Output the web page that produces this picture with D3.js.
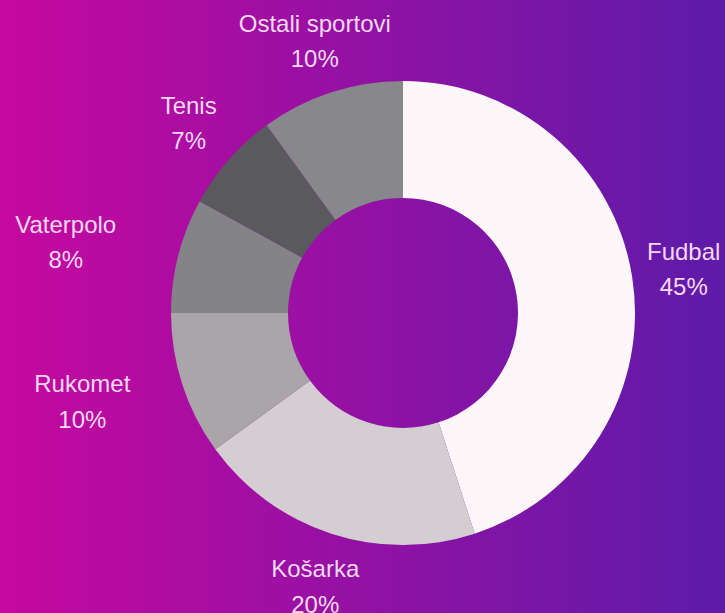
<!DOCTYPE html>
<html>
<head>
<meta charset="utf-8">
<script src="https://cdn.jsdelivr.net/npm/d3@7/dist/d3.min.js"></script>
<style>
  html, body { margin: 0; padding: 0; overflow: hidden; }
  svg { display: block; }
</style>
</head>
<body>
<svg id="chart" width="725" height="613"></svg>
<script>
// ---- data ----
const categories = ["Fudbal", "Košarka", "Rukomet", "Vaterpolo", "Tenis", "Ostali sportovi"];
const values = [45, 20, 10, 8, 7, 10];
const valueLabels = ["45%", "20%", "10%", "8%", "7%", "10%"];

// ---- styles / layout ----
const sliceColors = ["#fef7f9", "#d4cdd2", "#a9a5a9", "#848387", "#5a595e", "#88878b"];
const labelRadius = [283, 295, 335, 343, 281, 278];
const labelAngleShift = [1.7, -0.7, 1.2, -3.9, -1.1, -0.5]; // degrees

const W = 725, H = 613;
const cx = 403, cy = 313, outerR = 232, innerR = 115;

const svg = d3.select("#chart");
const defs = svg.append("defs");
const grad = defs.append("linearGradient").attr("id", "bg")
  .attr("x1", "0%").attr("y1", "0%").attr("x2", "100%").attr("y2", "0%");
grad.append("stop").attr("offset", "0%").attr("stop-color", "#c7089f");
grad.append("stop").attr("offset", "100%").attr("stop-color", "#5d1ba9");

svg.append("rect").attr("width", W).attr("height", H).attr("fill", "url(#bg)");

const data = categories.map((c, i) => ({ name: c, value: values[i], label: valueLabels[i], i }));

const pie = d3.pie().value(d => d.value).sort(null);
const arcs = pie(data);
const arc = d3.arc().innerRadius(innerR).outerRadius(outerR);

const g = svg.append("g").attr("transform", `translate(${cx},${cy})`);

g.selectAll("path.slice").data(arcs).join("path")
  .attr("class", "slice")
  .attr("d", arc)
  .attr("fill", d => sliceColors[d.data.i]);

const labels = g.selectAll("text.lbl").data(arcs).join("text")
  .attr("class", "lbl")
  .attr("text-anchor", "middle")
  .attr("fill", "#f6d8f1")
  .style("font-family", "'Liberation Sans', Arial, sans-serif")
  .style("font-size", "24px")
  .attr("transform", d => {
    const mid = (d.startAngle + d.endAngle) / 2 + labelAngleShift[d.data.i] * Math.PI / 180;
    const r = labelRadius[d.data.i];
    return `translate(${Math.sin(mid) * r},${-Math.cos(mid) * r})`;
  });

labels.append("tspan").attr("x", 0).attr("y", -17.5).text(d => d.data.name);
labels.append("tspan").attr("x", 0).attr("y", 18).text(d => d.data.label);
</script>
</body>
</html>
